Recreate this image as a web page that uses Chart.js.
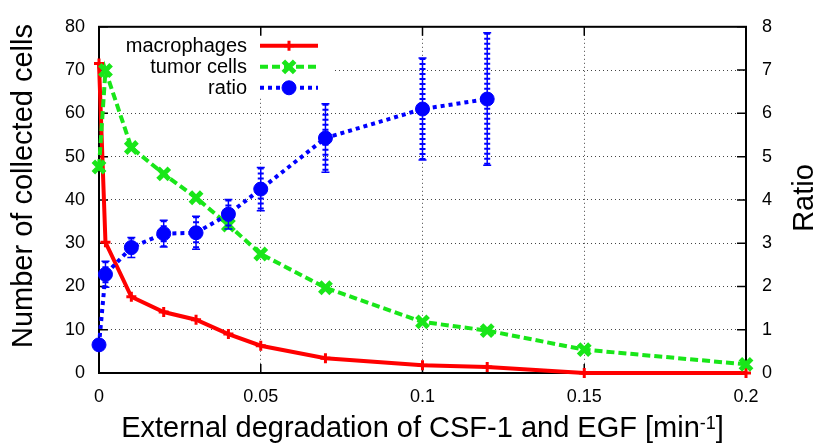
<!DOCTYPE html>
<html>
<head>
<meta charset="utf-8">
<script src="https://cdn.jsdelivr.net/npm/chart.js@4.4.1/dist/chart.umd.min.js"></script>
<style>
  html, body { margin: 0; padding: 0; background: #fff; }
  #wrap { width: 819px; height: 447px; position: relative; }
</style>
</head>
<body>
<div id="wrap"><canvas id="myChart"></canvas></div>
<script>
// data
const degradation = [0, 0.002, 0.01, 0.02, 0.03, 0.04, 0.05, 0.07, 0.1, 0.12, 0.15, 0.2];
const macrophages = [71.5, 30.2, 17.6, 14.1, 12.3, 9.0, 6.3, 3.4, 1.8, 1.4, 0, 0];
const tumorCells = [47.6, 69.9, 52.1, 46.0, 40.5, 34.2, 27.5, 19.7, 11.8, 9.8, 5.4, 2.0];
const ratioDegradation = [0, 0.002, 0.01, 0.02, 0.03, 0.04, 0.05, 0.07, 0.1, 0.12];
const ratio = [0.65, 2.28, 2.9, 3.22, 3.24, 3.67, 4.25, 5.43, 6.1, 6.33];
const ratioError = [0, 0.3, 0.23, 0.31, 0.38, 0.34, 0.5, 0.79, 1.18, 1.53];

const xTicks = [0, 0.05, 0.1, 0.15, 0.2];
const cellTicks = [0, 10, 20, 30, 40, 50, 60, 70, 80];
const ratioTicks = [0, 1, 2, 3, 4, 5, 6, 7, 8];

const seriesNames = ['macrophages', 'tumor cells', 'ratio'];
const xTitle = 'External degradation of CSF-1 and EGF [min';
const xTitleSup = '-1';
const yTitle = 'Number of collected cells';
const y2Title = 'Ratio';

const FONT = '"Liberation Sans", Arial, Helvetica, sans-serif';
const RED = '#ff0000', GREEN = '#19e619', BLUE = '#0000ff';

function pts(xs, ys) {
    return xs.map((x, i) => ({ x: x, y: ys[i] }));
}

// white box behind the key, plus frame and inward tick marks
const frame = {
    id: 'frame',
    beforeDatasetsDraw(chart) {
        const { ctx, chartArea: a } = chart;
        const xs = chart.scales.x, ys = chart.scales.y;
        ctx.save();
        ctx.fillStyle = '#fff';
        ctx.fillRect(a.left + 1, a.top + 1, 232, 70);

        ctx.strokeStyle = '#000';
        ctx.lineWidth = 1.5;
        ctx.beginPath();
        xTicks.forEach(v => {
            const p = xs.getPixelForValue(v);
            ctx.moveTo(p, a.bottom); ctx.lineTo(p, a.bottom - 9);
            ctx.moveTo(p, a.top); ctx.lineTo(p, a.top + 9);
        });
        cellTicks.forEach(v => {
            const p = ys.getPixelForValue(v);
            ctx.moveTo(a.left, p); ctx.lineTo(a.left + 9, p);
            ctx.moveTo(a.right, p); ctx.lineTo(a.right - 9, p);
        });
        ctx.stroke();

        ctx.lineWidth = 2;
        ctx.strokeRect(a.left, a.top, a.right - a.left, a.bottom - a.top);
        ctx.restore();
    }
};

const errorBars = {
    id: 'errorBars',
    afterDatasetDraw(chart, args) {
        if (args.index !== 2) return;
        const ctx = chart.ctx;
        const xs = chart.scales.x, ys = chart.scales.y2;
        ctx.save();
        ctx.strokeStyle = BLUE;
        ratioDegradation.forEach((d, i) => {
            const e = ratioError[i];
            if (!e) return;
            const px = xs.getPixelForValue(d);
            const top = ys.getPixelForValue(ratio[i] + e);
            const bot = ys.getPixelForValue(ratio[i] - e);
            ctx.lineWidth = 6;
            ctx.setLineDash([2, 3]);
            ctx.beginPath();
            ctx.moveTo(px, top); ctx.lineTo(px, bot);
            ctx.stroke();
            ctx.setLineDash([]);
            ctx.lineWidth = 1.5;
            ctx.beginPath();
            ctx.moveTo(px - 4, top); ctx.lineTo(px + 4, top);
            ctx.moveTo(px - 4, bot); ctx.lineTo(px + 4, bot);
            ctx.moveTo(px, top); ctx.lineTo(px, bot);
            ctx.stroke();
        });
        ctx.restore();
    }
};

const keyAndTitles = {
    id: 'keyAndTitles',
    afterDraw(chart) {
        const { ctx, chartArea: a } = chart;
        ctx.save();
        // key
        ctx.font = '20px ' + FONT;
        ctx.fillStyle = '#000';
        ctx.textAlign = 'right';
        ctx.textBaseline = 'middle';
        const rowsY = [a.top + 19, a.top + 40, a.top + 61];
        chart.data.datasets.forEach((ds, i) => {
            const y = rowsY[i];
            ctx.fillStyle = '#000';
            ctx.fillText(seriesNames[i], a.left + 148, y + 1);
            ctx.strokeStyle = ds.borderColor;
            ctx.fillStyle = ds.borderColor;
            ctx.lineWidth = ds.borderWidth;
            ctx.setLineDash(ds.borderDash || []);
            ctx.beginPath();
            ctx.moveTo(a.left + 161, y); ctx.lineTo(a.left + 219, y);
            ctx.stroke();
            ctx.setLineDash([]);
            ctx.lineWidth = ds.pointBorderWidth;
            Chart.helpers.drawPoint(ctx, {
                pointStyle: ds.pointStyle, radius: ds.pointRadius,
                borderWidth: ds.pointBorderWidth, rotation: 0
            }, a.left + 190, y);
        });

        // axis titles
        ctx.fillStyle = '#000';
        ctx.font = '29px ' + FONT;
        ctx.textAlign = 'center';
        ctx.textBaseline = 'middle';
        ctx.save();
        ctx.translate(24, 186);
        ctx.rotate(-Math.PI / 2);
        ctx.fillText(yTitle, 0, 0);
        ctx.restore();
        ctx.save();
        ctx.translate(805, 198);
        ctx.rotate(-Math.PI / 2);
        ctx.fillText(y2Title, 0, 0);
        ctx.restore();

        ctx.textBaseline = 'alphabetic';
        ctx.textAlign = 'left';
        const mainW = ctx.measureText(xTitle).width;
        const closeW = ctx.measureText(']').width;
        ctx.font = '18px ' + FONT;
        const supW = ctx.measureText(xTitleSup).width;
        const total = mainW + supW + closeW;
        let x0 = (a.left + a.right) / 2 - total / 2;
        ctx.font = '29px ' + FONT;
        ctx.fillText(xTitle, x0, 437);
        ctx.font = '18px ' + FONT;
        ctx.fillText(xTitleSup, x0 + mainW, 429);
        ctx.font = '29px ' + FONT;
        ctx.fillText(']', x0 + mainW + supW, 437);
        ctx.restore();
    }
};

const ctx = document.getElementById('myChart');
const tickFont = { family: FONT, size: 18 };

const myChart = new Chart(ctx, {
    type: 'line',
    data: {
        datasets: [{
            label: seriesNames[0],
            data: pts(degradation, macrophages),
            yAxisID: 'y',
            borderColor: RED,
            backgroundColor: RED,
            borderWidth: 4,
            pointStyle: 'cross',
            pointRadius: 5,
            pointBorderWidth: 3,
            order: 3,
            clip: false
        }, {
            label: seriesNames[1],
            data: pts(degradation, tumorCells),
            yAxisID: 'y',
            borderColor: GREEN,
            backgroundColor: GREEN,
            borderWidth: 4,
            borderDash: [8, 4],
            pointStyle: 'crossRot',
            pointRadius: 8,
            pointBorderWidth: 5,
            order: 2,
            clip: false
        }, {
            label: seriesNames[2],
            data: pts(ratioDegradation, ratio),
            yAxisID: 'y2',
            borderColor: BLUE,
            backgroundColor: BLUE,
            borderWidth: 4,
            borderDash: [4, 4],
            pointStyle: 'circle',
            pointRadius: 7,
            pointBorderWidth: 1,
            order: 1,
            clip: false
        }]
    },
    options: {
        responsive: true,
        maintainAspectRatio: false,
        animation: false,
        layout: { padding: { top: 15, left: 0, right: 0, bottom: 0 } },
        plugins: {
            legend: { display: false },
            tooltip: { enabled: false }
        },
        elements: { line: { tension: 0 } },
        scales: {
            x: {
                type: 'linear',
                min: xTicks[0],
                max: xTicks[xTicks.length - 1],
                afterBuildTicks: s => { s.ticks = xTicks.map(v => ({ value: v })); },
                afterFit: s => { s.height = 74; },
                ticks: {
                    font: tickFont, color: '#000', padding: 13,
                    maxRotation: 0,
                    callback: v => String(+v.toFixed(2))
                },
                grid: { color: '#444', lineWidth: 1, drawTicks: false },
                border: { display: false, dash: [1, 3] }
            },
            y: {
                position: 'left',
                min: cellTicks[0],
                max: cellTicks[cellTicks.length - 1],
                afterBuildTicks: s => { s.ticks = cellTicks.map(v => ({ value: v })); },
                afterFit: s => { s.width = 99; },
                ticks: { font: tickFont, color: '#000', padding: 14 },
                grid: { color: '#444', lineWidth: 1, drawTicks: false },
                border: { display: false, dash: [1, 3] }
            },
            y2: {
                position: 'right',
                min: ratioTicks[0],
                max: ratioTicks[ratioTicks.length - 1],
                afterBuildTicks: s => { s.ticks = ratioTicks.map(v => ({ value: v })); },
                afterFit: s => { s.width = 73; },
                ticks: { font: tickFont, color: '#000', padding: 16 },
                grid: { display: false, drawTicks: false },
                border: { display: false }
            }
        }
    },
    plugins: [frame, errorBars, keyAndTitles]
});
</script>
</body>
</html>
